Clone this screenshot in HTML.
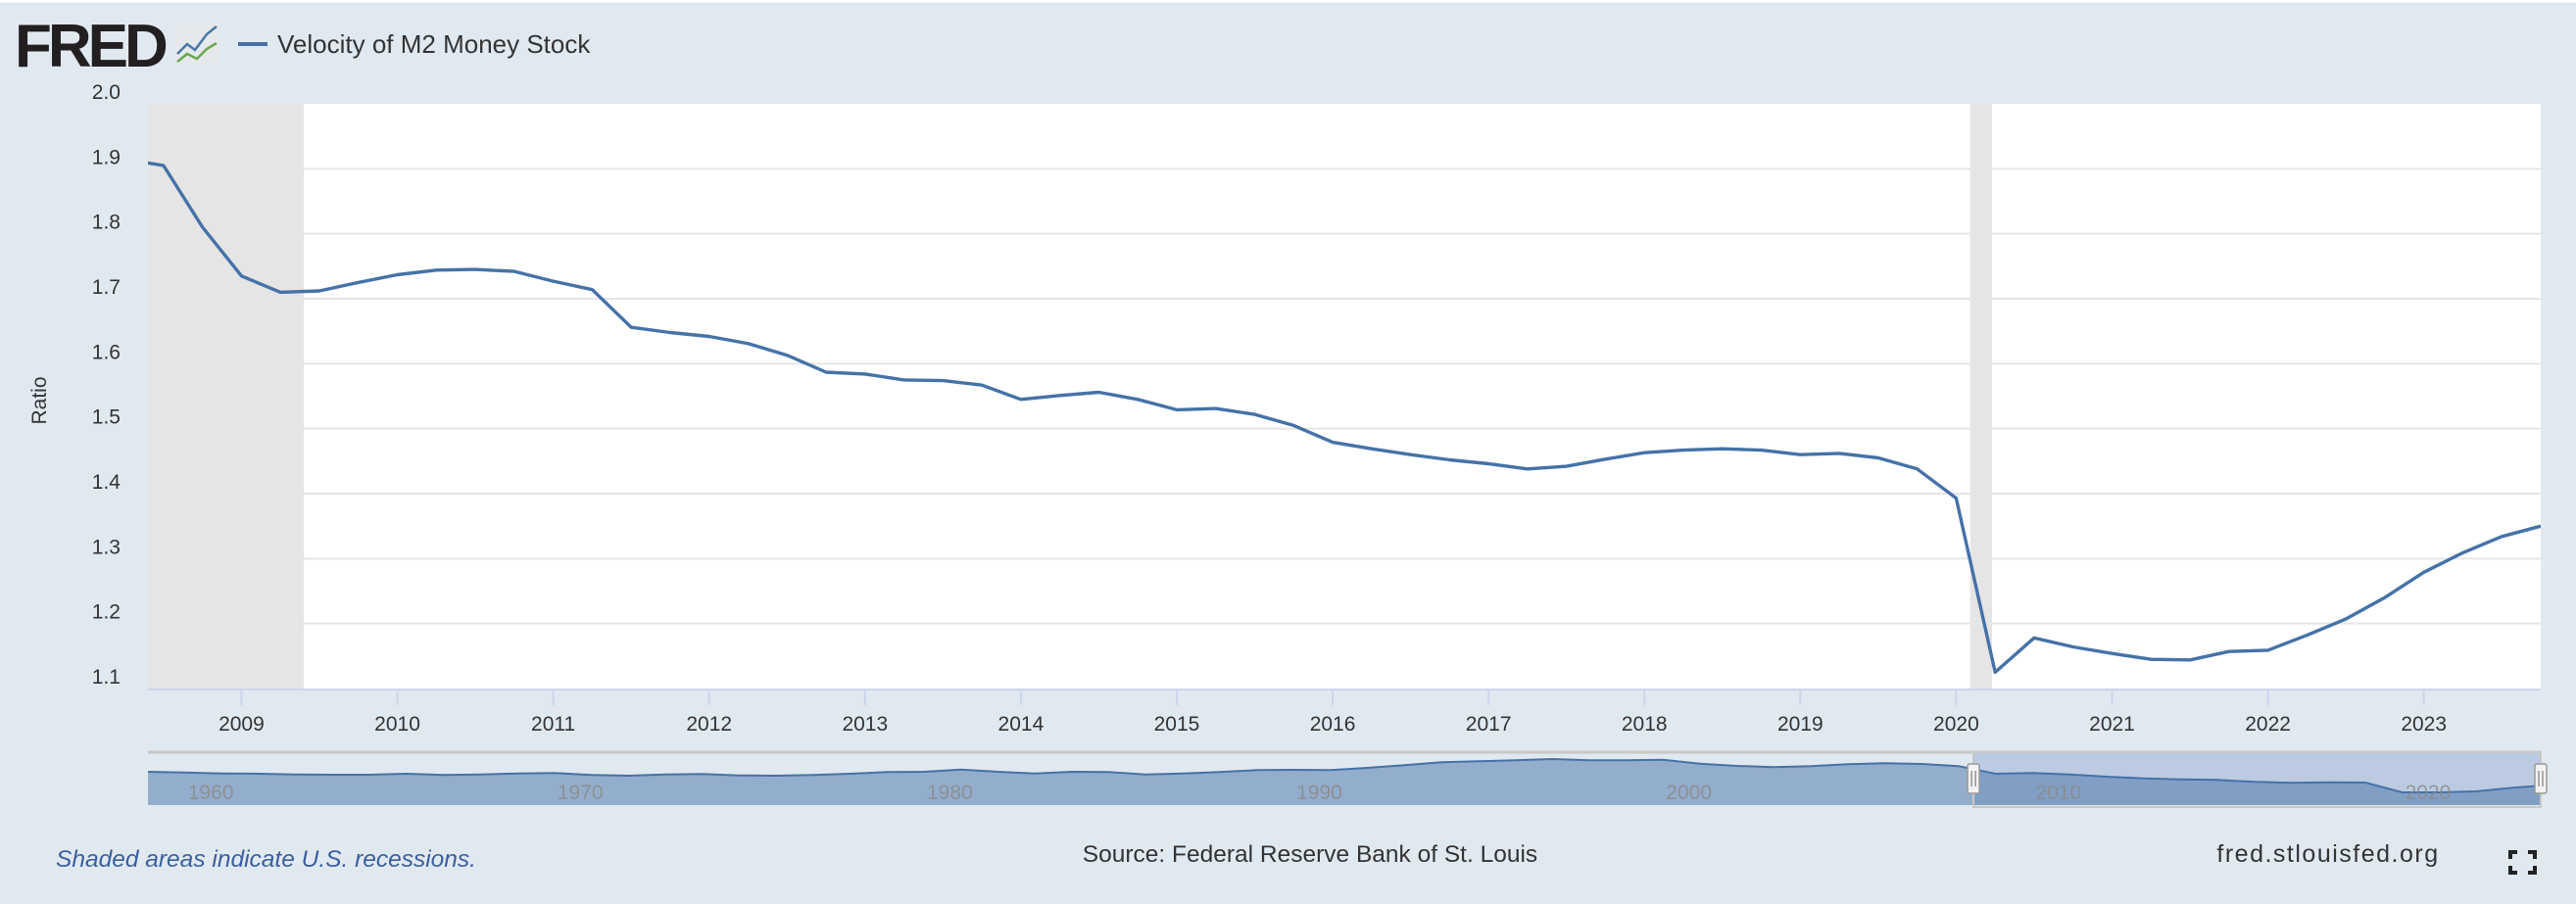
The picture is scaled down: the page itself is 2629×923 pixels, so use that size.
<!DOCTYPE html>
<html><head><meta charset="utf-8"><style>
html,body{margin:0;padding:0;background:#e1e9f0;}
svg{display:block;font-family:"Liberation Sans",sans-serif;}
</style></head><body>
<svg id="c" width="2629" height="923" viewBox="0 0 2629 923" xmlns="http://www.w3.org/2000/svg">
<defs><clipPath id="pc"><rect x="151" y="100" width="2442" height="610"/></clipPath></defs>
<rect x="0" y="0" width="2629" height="923" fill="#e1e9f0"/>
<line x1="0" y1="1" x2="2629" y2="1" stroke="#ffffff" stroke-width="3"/>
<text x="15" y="68" font-size="62" font-weight="bold" fill="#231f20" letter-spacing="-4">FRED</text>
<g>
<rect x="178" y="25" width="46" height="42" rx="3" fill="#e6e9ec"/>
<polyline points="181,55 191,45 199,51 211,35 221,27" fill="none" stroke="#4a77a8" stroke-width="2.5"/>
<polyline points="181,63 191,55 201,60 211,50 221,44" fill="none" stroke="#6aa84f" stroke-width="2.5"/>
</g>
<line x1="243" y1="45" x2="273" y2="45" stroke="#4572a7" stroke-width="4"/>
<text x="283" y="54" font-size="26" fill="#333">Velocity of M2 Money Stock</text>
<g id="plot"></g>
<text transform="translate(47,409) rotate(-90)" text-anchor="middle" font-size="21" fill="#333">Ratio</text>
<text x="57" y="885" font-size="24.5" font-style="italic" fill="#3a5f9e">Shaded areas indicate U.S. recessions.</text>
<text x="1337" y="880" text-anchor="middle" font-size="24.5" fill="#333">Source: Federal Reserve Bank of St. Louis</text>
<text x="2376" y="880" text-anchor="middle" font-size="25" letter-spacing="1.5" fill="#333">fred.stlouisfed.org</text>
<g fill="none" stroke="#222" stroke-width="4">
<polyline points="2562,877 2562,870 2569,870"/><polyline points="2580,870 2587,870 2587,877"/>
<polyline points="2562,884 2562,891 2569,891"/><polyline points="2580,891 2587,891 2587,884"/>
</g>
</svg>
<script>
const yTicks=[1.1,1.2,1.3,1.4,1.5,1.6,1.7,1.8,1.9,2.0];
const xYears=[2009,2010,2011,2012,2013,2014,2015,2016,2017,2018,2019,2020,2021,2022,2023];
const startYear=2008.25;
const velocity=[1.915,1.905,1.81,1.735,1.71,1.712,1.725,1.737,1.744,1.745,1.742,1.727,1.714,1.656,1.648,1.642,1.631,1.613,1.587,1.584,1.575,1.574,1.567,1.545,1.551,1.556,1.545,1.529,1.531,1.522,1.505,1.479,1.469,1.460,1.452,1.446,1.438,1.442,1.453,1.463,1.467,1.469,1.467,1.460,1.462,1.455,1.438,1.393,1.125,1.178,1.164,1.154,1.145,1.144,1.157,1.159,1.182,1.207,1.240,1.279,1.309,1.334,1.350];
const recessions=[[2007.92,2009.40],[2020.09,2020.23]];
const navYears=[1959,1960,1961,1962,1963,1964,1965,1966,1967,1968,1969,1970,1971,1972,1973,1974,1975,1976,1977,1978,1979,1980,1981,1982,1983,1984,1985,1986,1987,1988,1989,1990,1991,1992,1993,1994,1995,1996,1997,1998,1999,2000,2001,2002,2003,2004,2005,2006,2007,2008,2009,2010,2011,2012,2013,2014,2015,2016,2017,2018,2019,2020,2021,2022,2023,2023.75];
const navValues=[1.78,1.76,1.73,1.72,1.70,1.69,1.69,1.72,1.68,1.70,1.73,1.74,1.68,1.66,1.70,1.71,1.67,1.66,1.68,1.72,1.77,1.78,1.85,1.78,1.73,1.78,1.77,1.70,1.73,1.77,1.83,1.84,1.83,1.90,1.98,2.07,2.10,2.13,2.17,2.13,2.13,2.15,2.03,1.96,1.92,1.95,2.01,2.04,2.02,1.95,1.72,1.74,1.70,1.63,1.58,1.55,1.53,1.47,1.44,1.46,1.45,1.15,1.15,1.18,1.29,1.35];
const navLabels=[1960,1970,1980,1990,2000,2010,2020];

const NS="http://www.w3.org/2000/svg";
const g=document.getElementById('plot');
const L=151,R=2593,T=106,B=703;
const xMin=2008.40,xMax=2023.75;
const X=t=>L+(t-xMin)/(xMax-xMin)*(R-L);
const Y=v=>B-(v-1.1)/(2.0-1.1)*(B-T);
function el(tag,attrs,parent){const e=document.createElementNS(NS,tag);for(const k in attrs)e.setAttribute(k,attrs[k]);(parent||g).appendChild(e);return e;}

const bg=el('rect',{x:L,y:T,width:R-L,height:B-T,fill:'#fff'});


recessions.forEach(r=>{const a=Math.max(X(r[0]),L),b=Math.min(X(r[1]),R);
 const s=el('rect',{x:a,y:T,width:b-a,height:B-T,fill:'#e5e5e5'});
 
 });
yTicks.forEach(v=>{
 if(v>1.1&&v<2.0){const ln=el('line',{x1:L,x2:R,y1:Y(v),y2:Y(v),stroke:'#e6e6e6','stroke-width':2});
 
 }
 const t=el('text',{x:123,y:Y(v)-5,'text-anchor':'end','font-size':21,fill:'#333'});t.textContent=v.toFixed(1);
 
 });
const ax=el('line',{x1:L,x2:R,y1:B+1,y2:B+1,stroke:'#ccd6eb','stroke-width':2});


xYears.forEach(yr=>{const x=X(yr);
 const tk=el('line',{x1:x,x2:x,y1:B,y2:B+17,stroke:'#ccd6eb','stroke-width':2});
 
 
 const t=el('text',{x:x,y:B+43,'text-anchor':'middle','font-size':21,fill:'#333'});t.textContent=yr;
 
 });
const pts=velocity.map((v,i)=>X(startYear+i/4).toFixed(1)+','+Y(v).toFixed(1)).join(' ');
const line=el('polyline',{points:pts,fill:'none',stroke:'#4572a7','stroke-width':3.4,'stroke-linejoin':'round','clip-path':'url(#pc)'});



// navigator
const NT=768,NB=822;
const nX=t=>L+(t-1959)/(2023.75-1959)*(R-L);
const nY=v=>788+(1.78-v)/0.03;
const nb=el('line',{x1:L,x2:R,y1:NT,y2:NT,stroke:'#c8c8c8','stroke-width':3});


const sel0=nX(xMin);
const selRect=el('rect',{x:sel0,y:NT,width:R-sel0,height:NB-NT,fill:'#bccbe2'});


const np=navValues.map((v,i)=>nX(navYears[i]).toFixed(1)+','+nY(v).toFixed(1));
const area=el('polygon',{points:L+','+NB+' '+np.join(' ')+' '+R+','+NB,fill:'#4572a7','fill-opacity':0.5});


const nl=el('polyline',{points:np.join(' '),fill:'none',stroke:'#4572a7','stroke-width':2});


navLabels.forEach(yr=>{const x=nX(yr);
 const t=el('text',{x:x+3,y:NB-6,'font-size':21,fill:'#8a8a8a','fill-opacity':0.8});t.textContent=yr;
 
 });
const sb=el('rect',{x:sel0,y:NT,width:R-sel0,height:NB-NT+2,fill:'none',stroke:'#c8c8c8','stroke-width':2});


[sel0,R].forEach(x=>{const h=el('g',{});
 
 
 el('rect',{x:x-6,y:780,width:12,height:30,rx:2,fill:'#f2f2f2',stroke:'#999','stroke-width':1.5},h);
 el('line',{x1:x-2,x2:x-2,y1:787,y2:803,stroke:'#666','stroke-width':1},h);
 el('line',{x1:x+2,x2:x+2,y1:787,y2:803,stroke:'#666','stroke-width':1},h);});
</script>
</body></html>
